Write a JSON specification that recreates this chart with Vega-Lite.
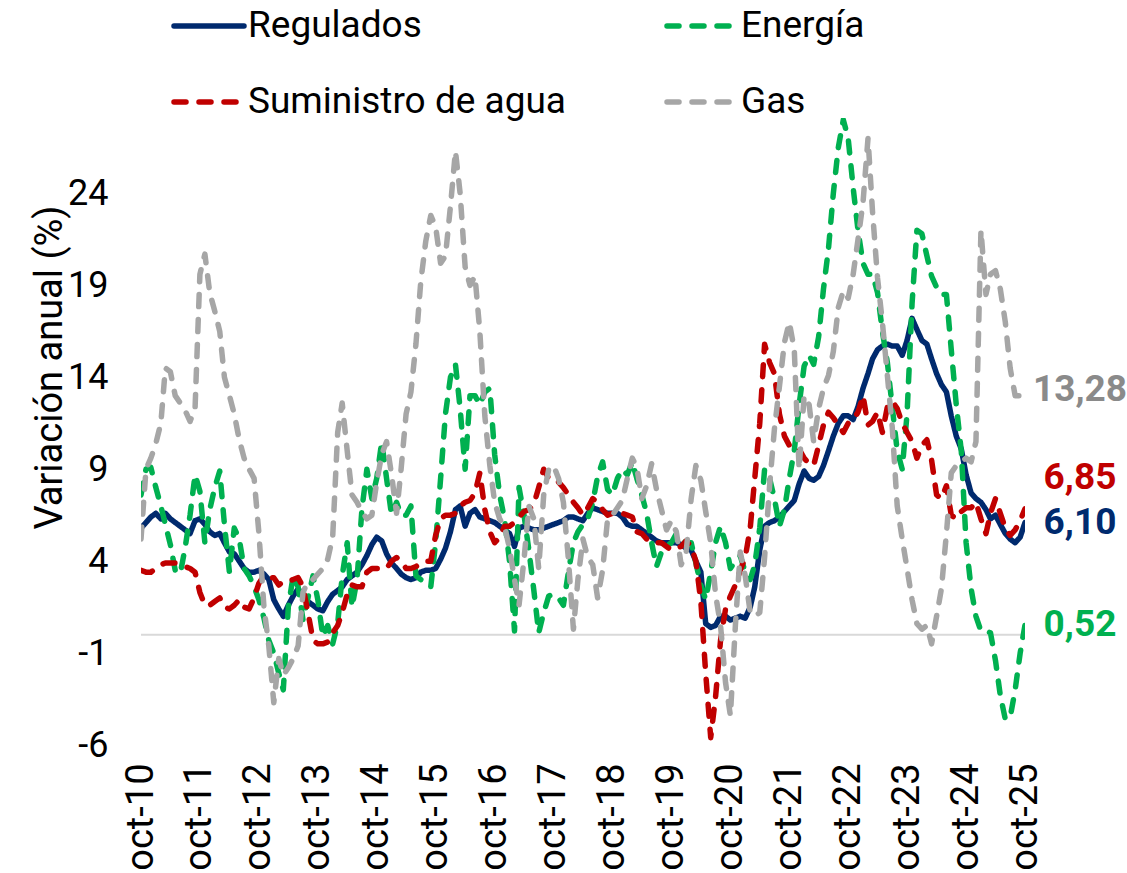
{
  "$schema": "https://vega.github.io/schema/vega-lite/v6.json",
  "width": 884,
  "height": 627,
  "autosize": {"type": "none"},
  "padding": {"left": 141, "top": 118, "right": 102, "bottom": 128},
  "background": "white",
  "config": {"font": "Roboto", "view": {"stroke": null}},
  "resolve": {"scale": {"color": "independent"}},
  "layer": [
    {
      "data": {"values": [{"valor": 0}]},
      "mark": {"type": "rule", "color": "#D9D9D9", "strokeWidth": 2},
      "encoding": {"y": {"field": "valor", "type": "quantitative"}}
    },
    {
      "data": {
        "format": {"parse": {"d": "date:'%Y-%m'"}},
        "values": [
{"d":"2010-10","Regulados":5.8,"Energía":7.6,"Suministro de agua":3.5,"Gas":5.2},
{"d":"2010-11","Regulados":6.1,"Energía":9.0,"Suministro de agua":3.4,"Gas":9.0},
{"d":"2010-12","Regulados":6.4,"Energía":9.1,"Suministro de agua":3.4,"Gas":9.6},
{"d":"2011-01","Regulados":6.6,"Energía":8.0,"Suministro de agua":3.6,"Gas":10.4},
{"d":"2011-02","Regulados":6.3,"Energía":7.0,"Suministro de agua":3.8,"Gas":11.5},
{"d":"2011-03","Regulados":6.6,"Energía":6.0,"Suministro de agua":3.9,"Gas":14.5},
{"d":"2011-04","Regulados":6.3,"Energía":4.9,"Suministro de agua":3.9,"Gas":14.3},
{"d":"2011-05","Regulados":6.1,"Energía":3.5,"Suministro de agua":3.9,"Gas":13.0},
{"d":"2011-06","Regulados":5.9,"Energía":3.3,"Suministro de agua":3.8,"Gas":12.6},
{"d":"2011-07","Regulados":5.7,"Energía":4.7,"Suministro de agua":3.7,"Gas":12.2},
{"d":"2011-08","Regulados":5.5,"Energía":6.5,"Suministro de agua":3.6,"Gas":11.6},
{"d":"2011-09","Regulados":6.2,"Energía":8.7,"Suministro de agua":3.4,"Gas":12.3},
{"d":"2011-10","Regulados":6.3,"Energía":7.8,"Suministro de agua":2.3,"Gas":19.6},
{"d":"2011-11","Regulados":6.0,"Energía":5.0,"Suministro de agua":1.6,"Gas":20.7},
{"d":"2011-12","Regulados":5.6,"Energía":6.8,"Suministro de agua":1.6,"Gas":18.6},
{"d":"2012-01","Regulados":5.4,"Energía":8.0,"Suministro de agua":1.8,"Gas":17.6},
{"d":"2012-02","Regulados":5.5,"Energía":8.9,"Suministro de agua":2.0,"Gas":16.5},
{"d":"2012-03","Regulados":5.0,"Energía":6.0,"Suministro de agua":1.5,"Gas":14.0},
{"d":"2012-04","Regulados":4.5,"Energía":3.4,"Suministro de agua":1.4,"Gas":13.0},
{"d":"2012-05","Regulados":4.4,"Energía":5.8,"Suministro de agua":1.6,"Gas":12.0},
{"d":"2012-06","Regulados":4.0,"Energía":5.2,"Suministro de agua":1.9,"Gas":10.6},
{"d":"2012-07","Regulados":3.6,"Energía":3.6,"Suministro de agua":1.5,"Gas":9.6},
{"d":"2012-08","Regulados":3.4,"Energía":3.2,"Suministro de agua":1.4,"Gas":9.0},
{"d":"2012-09","Regulados":3.4,"Energía":2.6,"Suministro de agua":2.0,"Gas":8.5},
{"d":"2012-10","Regulados":3.5,"Energía":1.9,"Suministro de agua":2.8,"Gas":5.5},
{"d":"2012-11","Regulados":3.3,"Energía":0.9,"Suministro de agua":3.2,"Gas":1.5},
{"d":"2012-12","Regulados":3.0,"Energía":-0.3,"Suministro de agua":3.1,"Gas":-0.6},
{"d":"2013-01","Regulados":1.9,"Energía":-1.0,"Suministro de agua":3.1,"Gas":-3.7},
{"d":"2013-02","Regulados":1.4,"Energía":-2.1,"Suministro de agua":2.7,"Gas":-1.3},
{"d":"2013-03","Regulados":1.0,"Energía":-3.0,"Suministro de agua":2.9,"Gas":-2.2},
{"d":"2013-04","Regulados":1.6,"Energía":1.5,"Suministro de agua":2.9,"Gas":-1.8},
{"d":"2013-05","Regulados":2.1,"Energía":3.2,"Suministro de agua":3.0,"Gas":-1.3},
{"d":"2013-06","Regulados":2.5,"Energía":2.6,"Suministro de agua":3.1,"Gas":-0.6},
{"d":"2013-07","Regulados":2.1,"Energía":0.8,"Suministro de agua":2.6,"Gas":2.3},
{"d":"2013-08","Regulados":1.8,"Energía":2.0,"Suministro de agua":1.2,"Gas":2.9},
{"d":"2013-09","Regulados":1.6,"Energía":3.2,"Suministro de agua":-0.3,"Gas":3.0},
{"d":"2013-10","Regulados":1.4,"Energía":1.9,"Suministro de agua":-0.5,"Gas":3.3},
{"d":"2013-11","Regulados":1.3,"Energía":-0.1,"Suministro de agua":-0.5,"Gas":3.6},
{"d":"2013-12","Regulados":1.8,"Energía":0.5,"Suministro de agua":-0.4,"Gas":4.1},
{"d":"2014-01","Regulados":2.2,"Energía":-0.5,"Suministro de agua":0.1,"Gas":5.3},
{"d":"2014-02","Regulados":2.4,"Energía":0.6,"Suministro de agua":0.5,"Gas":11.0},
{"d":"2014-03","Regulados":2.6,"Energía":3.2,"Suministro de agua":1.2,"Gas":12.6},
{"d":"2014-04","Regulados":3.0,"Energía":5.0,"Suministro de agua":2.2,"Gas":10.0},
{"d":"2014-05","Regulados":3.2,"Energía":1.5,"Suministro de agua":2.7,"Gas":7.6},
{"d":"2014-06","Regulados":3.4,"Energía":3.0,"Suministro de agua":2.6,"Gas":7.2},
{"d":"2014-07","Regulados":3.8,"Energía":6.8,"Suministro de agua":2.6,"Gas":6.7},
{"d":"2014-08","Regulados":4.3,"Energía":9.0,"Suministro de agua":3.4,"Gas":6.3},
{"d":"2014-09","Regulados":4.9,"Energía":7.4,"Suministro de agua":3.6,"Gas":6.5},
{"d":"2014-10","Regulados":5.3,"Energía":8.5,"Suministro de agua":3.6,"Gas":8.3},
{"d":"2014-11","Regulados":5.1,"Energía":10.5,"Suministro de agua":3.6,"Gas":9.8},
{"d":"2014-12","Regulados":4.4,"Energía":8.5,"Suministro de agua":3.6,"Gas":10.5},
{"d":"2015-01","Regulados":3.9,"Energía":6.5,"Suministro de agua":4.0,"Gas":8.7},
{"d":"2015-02","Regulados":3.6,"Energía":7.2,"Suministro de agua":4.2,"Gas":6.6},
{"d":"2015-03","Regulados":3.3,"Energía":6.5,"Suministro de agua":4.0,"Gas":9.0},
{"d":"2015-04","Regulados":3.1,"Energía":6.5,"Suministro de agua":3.6,"Gas":12.0},
{"d":"2015-05","Regulados":3.0,"Energía":7.0,"Suministro de agua":3.6,"Gas":13.2},
{"d":"2015-06","Regulados":3.1,"Energía":3.2,"Suministro de agua":3.7,"Gas":15.8},
{"d":"2015-07","Regulados":3.4,"Energía":3.0,"Suministro de agua":3.9,"Gas":19.2},
{"d":"2015-08","Regulados":3.5,"Energía":2.9,"Suministro de agua":4.0,"Gas":21.4},
{"d":"2015-09","Regulados":3.5,"Energía":2.6,"Suministro de agua":4.0,"Gas":22.8},
{"d":"2015-10","Regulados":3.6,"Energía":5.0,"Suministro de agua":5.4,"Gas":22.2},
{"d":"2015-11","Regulados":4.1,"Energía":8.5,"Suministro de agua":6.3,"Gas":20.2},
{"d":"2015-12","Regulados":4.7,"Energía":12.0,"Suministro de agua":6.5,"Gas":20.6},
{"d":"2016-01","Regulados":5.6,"Energía":14.0,"Suministro de agua":6.5,"Gas":23.3},
{"d":"2016-02","Regulados":6.8,"Energía":14.7,"Suministro de agua":6.6,"Gas":26.3},
{"d":"2016-03","Regulados":7.0,"Energía":12.3,"Suministro de agua":7.0,"Gas":24.0},
{"d":"2016-04","Regulados":5.9,"Energía":9.0,"Suministro de agua":7.2,"Gas":20.0},
{"d":"2016-05","Regulados":6.6,"Energía":13.0,"Suministro de agua":7.3,"Gas":19.0},
{"d":"2016-06","Regulados":6.8,"Energía":13.0,"Suministro de agua":7.7,"Gas":19.5},
{"d":"2016-07","Regulados":6.4,"Energía":12.5,"Suministro de agua":8.8,"Gas":16.5},
{"d":"2016-08","Regulados":6.3,"Energía":13.2,"Suministro de agua":6.8,"Gas":11.9},
{"d":"2016-09","Regulados":6.2,"Energía":13.4,"Suministro de agua":5.6,"Gas":9.2},
{"d":"2016-10","Regulados":6.1,"Energía":9.8,"Suministro de agua":5.0,"Gas":7.2},
{"d":"2016-11","Regulados":5.9,"Energía":7.6,"Suministro de agua":5.3,"Gas":6.3},
{"d":"2016-12","Regulados":5.7,"Energía":6.3,"Suministro de agua":5.9,"Gas":5.9},
{"d":"2017-01","Regulados":5.5,"Energía":4.0,"Suministro de agua":5.9,"Gas":4.7},
{"d":"2017-02","Regulados":4.8,"Energía":0.2,"Suministro de agua":6.1,"Gas":3.0},
{"d":"2017-03","Regulados":5.8,"Energía":8.0,"Suministro de agua":6.4,"Gas":1.6},
{"d":"2017-04","Regulados":5.9,"Energía":6.5,"Suministro de agua":6.7,"Gas":4.1},
{"d":"2017-05","Regulados":5.8,"Energía":4.6,"Suministro de agua":6.8,"Gas":7.0},
{"d":"2017-06","Regulados":5.7,"Energía":2.4,"Suministro de agua":7.1,"Gas":6.3},
{"d":"2017-07","Regulados":5.7,"Energía":0.1,"Suministro de agua":8.0,"Gas":3.6},
{"d":"2017-08","Regulados":5.8,"Energía":1.2,"Suministro de agua":9.0,"Gas":7.6},
{"d":"2017-09","Regulados":5.9,"Energía":2.1,"Suministro de agua":8.5,"Gas":9.0},
{"d":"2017-10","Regulados":6.0,"Energía":2.2,"Suministro de agua":8.5,"Gas":9.2},
{"d":"2017-11","Regulados":6.1,"Energía":2.0,"Suministro de agua":8.3,"Gas":8.5},
{"d":"2017-12","Regulados":6.2,"Energía":1.6,"Suministro de agua":8.0,"Gas":7.2},
{"d":"2018-01","Regulados":6.4,"Energía":3.4,"Suministro de agua":7.6,"Gas":4.1},
{"d":"2018-02","Regulados":6.4,"Energía":5.0,"Suministro de agua":7.2,"Gas":0.3},
{"d":"2018-03","Regulados":6.3,"Energía":5.6,"Suministro de agua":6.9,"Gas":3.0},
{"d":"2018-04","Regulados":6.2,"Energía":6.0,"Suministro de agua":6.5,"Gas":5.2},
{"d":"2018-05","Regulados":6.6,"Energía":6.3,"Suministro de agua":6.9,"Gas":4.2},
{"d":"2018-06","Regulados":6.9,"Energía":7.2,"Suministro de agua":7.4,"Gas":3.8},
{"d":"2018-07","Regulados":6.8,"Energía":8.6,"Suministro de agua":7.2,"Gas":2.0},
{"d":"2018-08","Regulados":6.7,"Energía":9.4,"Suministro de agua":6.8,"Gas":3.5},
{"d":"2018-09","Regulados":6.6,"Energía":7.9,"Suministro de agua":6.5,"Gas":6.3},
{"d":"2018-10","Regulados":6.6,"Energía":7.6,"Suministro de agua":6.6,"Gas":6.5},
{"d":"2018-11","Regulados":6.6,"Energía":8.5,"Suministro de agua":6.7,"Gas":6.9},
{"d":"2018-12","Regulados":6.4,"Energía":9.0,"Suministro de agua":6.6,"Gas":7.3},
{"d":"2019-01","Regulados":6.0,"Energía":8.7,"Suministro de agua":6.5,"Gas":8.5},
{"d":"2019-02","Regulados":5.9,"Energía":9.4,"Suministro de agua":6.4,"Gas":9.6},
{"d":"2019-03","Regulados":5.9,"Energía":8.5,"Suministro de agua":5.6,"Gas":9.1},
{"d":"2019-04","Regulados":5.7,"Energía":7.6,"Suministro de agua":5.5,"Gas":7.4},
{"d":"2019-05","Regulados":5.5,"Energía":6.6,"Suministro de agua":5.2,"Gas":8.1},
{"d":"2019-06","Regulados":5.3,"Energía":5.0,"Suministro de agua":5.0,"Gas":9.3},
{"d":"2019-07","Regulados":5.1,"Energía":3.7,"Suministro de agua":5.0,"Gas":7.9},
{"d":"2019-08","Regulados":5.0,"Energía":4.5,"Suministro de agua":5.0,"Gas":6.8},
{"d":"2019-09","Regulados":5.0,"Energía":4.8,"Suministro de agua":4.8,"Gas":5.7},
{"d":"2019-10","Regulados":5.0,"Energía":5.0,"Suministro de agua":4.6,"Gas":6.2},
{"d":"2019-11","Regulados":5.0,"Energía":5.5,"Suministro de agua":4.7,"Gas":5.6},
{"d":"2019-12","Regulados":4.9,"Energía":5.2,"Suministro de agua":4.8,"Gas":3.8},
{"d":"2020-01","Regulados":4.7,"Energía":5.0,"Suministro de agua":5.1,"Gas":4.5},
{"d":"2020-02","Regulados":4.6,"Energía":5.0,"Suministro de agua":4.8,"Gas":7.4},
{"d":"2020-03","Regulados":4.0,"Energía":3.9,"Suministro de agua":4.0,"Gas":9.2},
{"d":"2020-04","Regulados":3.4,"Energía":2.7,"Suministro de agua":1.8,"Gas":8.4},
{"d":"2020-05","Regulados":0.6,"Energía":1.9,"Suministro de agua":-2.1,"Gas":6.7},
{"d":"2020-06","Regulados":0.4,"Energía":3.4,"Suministro de agua":-5.6,"Gas":5.0},
{"d":"2020-07","Regulados":0.5,"Energía":5.0,"Suministro de agua":-3.4,"Gas":2.2},
{"d":"2020-08","Regulados":1.0,"Energía":5.9,"Suministro de agua":-0.3,"Gas":0.5},
{"d":"2020-09","Regulados":1.0,"Energía":5.0,"Suministro de agua":1.4,"Gas":-2.6},
{"d":"2020-10","Regulados":0.8,"Energía":3.6,"Suministro de agua":2.1,"Gas":-4.4},
{"d":"2020-11","Regulados":0.9,"Energía":4.0,"Suministro de agua":2.7,"Gas":0.5},
{"d":"2020-12","Regulados":1.0,"Energía":4.3,"Suministro de agua":3.5,"Gas":4.5},
{"d":"2021-01","Regulados":0.9,"Energía":3.4,"Suministro de agua":4.2,"Gas":3.2},
{"d":"2021-02","Regulados":1.5,"Energía":3.0,"Suministro de agua":5.8,"Gas":1.2},
{"d":"2021-03","Regulados":2.6,"Energía":3.8,"Suministro de agua":8.5,"Gas":1.0},
{"d":"2021-04","Regulados":4.6,"Energía":5.8,"Suministro de agua":11.5,"Gas":1.2},
{"d":"2021-05","Regulados":5.9,"Energía":9.0,"Suministro de agua":15.8,"Gas":4.2},
{"d":"2021-06","Regulados":6.1,"Energía":8.5,"Suministro de agua":14.8,"Gas":8.1},
{"d":"2021-07","Regulados":6.2,"Energía":7.4,"Suministro de agua":14.2,"Gas":11.2},
{"d":"2021-08","Regulados":6.4,"Energía":5.9,"Suministro de agua":12.0,"Gas":13.5},
{"d":"2021-09","Regulados":6.7,"Energía":6.8,"Suministro de agua":10.8,"Gas":15.9},
{"d":"2021-10","Regulados":7.0,"Energía":8.5,"Suministro de agua":10.3,"Gas":17.0},
{"d":"2021-11","Regulados":7.3,"Energía":10.0,"Suministro de agua":10.3,"Gas":15.5},
{"d":"2021-12","Regulados":8.2,"Energía":12.5,"Suministro de agua":10.1,"Gas":9.0},
{"d":"2022-01","Regulados":8.9,"Energía":14.6,"Suministro de agua":9.6,"Gas":13.0},
{"d":"2022-02","Regulados":8.5,"Energía":15.2,"Suministro de agua":9.3,"Gas":12.5},
{"d":"2022-03","Regulados":8.4,"Energía":14.7,"Suministro de agua":9.2,"Gas":10.5},
{"d":"2022-04","Regulados":8.6,"Energía":16.2,"Suministro de agua":10.3,"Gas":12.3},
{"d":"2022-05","Regulados":9.2,"Energía":18.8,"Suministro de agua":11.4,"Gas":13.4},
{"d":"2022-06","Regulados":10.0,"Energía":21.0,"Suministro de agua":12.1,"Gas":14.1},
{"d":"2022-07","Regulados":10.8,"Energía":24.0,"Suministro de agua":11.8,"Gas":15.4},
{"d":"2022-08","Regulados":11.5,"Energía":26.5,"Suministro de agua":11.4,"Gas":17.8},
{"d":"2022-09","Regulados":11.9,"Energía":28.0,"Suministro de agua":11.0,"Gas":18.7},
{"d":"2022-10","Regulados":11.9,"Energía":27.0,"Suministro de agua":11.5,"Gas":18.3},
{"d":"2022-11","Regulados":11.7,"Energía":24.3,"Suministro de agua":11.7,"Gas":19.6},
{"d":"2022-12","Regulados":12.4,"Energía":22.0,"Suministro de agua":12.1,"Gas":21.5},
{"d":"2023-01","Regulados":13.4,"Energía":20.2,"Suministro de agua":13.0,"Gas":23.5},
{"d":"2023-02","Regulados":14.2,"Energía":19.6,"Suministro de agua":11.4,"Gas":27.0},
{"d":"2023-03","Regulados":15.0,"Energía":19.6,"Suministro de agua":11.6,"Gas":23.0},
{"d":"2023-04","Regulados":15.5,"Energía":18.6,"Suministro de agua":12.1,"Gas":19.4},
{"d":"2023-05","Regulados":15.7,"Energía":16.5,"Suministro de agua":11.0,"Gas":17.0},
{"d":"2023-06","Regulados":15.8,"Energía":14.8,"Suministro de agua":12.4,"Gas":14.1},
{"d":"2023-07","Regulados":15.7,"Energía":12.4,"Suministro de agua":12.7,"Gas":11.3},
{"d":"2023-08","Regulados":15.7,"Energía":10.0,"Suministro de agua":12.3,"Gas":7.0},
{"d":"2023-09","Regulados":15.2,"Energía":9.0,"Suministro de agua":11.5,"Gas":5.2},
{"d":"2023-10","Regulados":16.0,"Energía":12.0,"Suministro de agua":11.0,"Gas":3.6},
{"d":"2023-11","Regulados":17.2,"Energía":18.0,"Suministro de agua":10.5,"Gas":1.9},
{"d":"2023-12","Regulados":16.6,"Energía":22.0,"Suministro de agua":9.6,"Gas":0.6},
{"d":"2024-01","Regulados":16.0,"Energía":21.8,"Suministro de agua":10.3,"Gas":0.3},
{"d":"2024-02","Regulados":15.8,"Energía":20.6,"Suministro de agua":10.6,"Gas":0.5},
{"d":"2024-03","Regulados":15.0,"Energía":19.5,"Suministro de agua":9.5,"Gas":-0.5},
{"d":"2024-04","Regulados":14.2,"Energía":18.9,"Suministro de agua":7.6,"Gas":1.0},
{"d":"2024-05","Regulados":13.6,"Energía":18.5,"Suministro de agua":7.4,"Gas":2.5},
{"d":"2024-06","Regulados":13.2,"Energía":18.5,"Suministro de agua":8.1,"Gas":5.5},
{"d":"2024-07","Regulados":11.9,"Energía":15.5,"Suministro de agua":6.5,"Gas":8.8},
{"d":"2024-08","Regulados":10.8,"Energía":12.5,"Suministro de agua":6.3,"Gas":9.2},
{"d":"2024-09","Regulados":10.1,"Energía":10.0,"Suministro de agua":6.7,"Gas":9.4},
{"d":"2024-10","Regulados":8.7,"Energía":5.0,"Suministro de agua":6.9,"Gas":9.6},
{"d":"2024-11","Regulados":7.7,"Energía":2.5,"Suministro de agua":6.9,"Gas":9.4},
{"d":"2024-12","Regulados":7.4,"Energía":1.0,"Suministro de agua":7.2,"Gas":10.5},
{"d":"2025-01","Regulados":7.2,"Energía":0.2,"Suministro de agua":6.3,"Gas":22.0},
{"d":"2025-02","Regulados":6.8,"Energía":0.2,"Suministro de agua":5.5,"Gas":18.5},
{"d":"2025-03","Regulados":6.3,"Energía":0.1,"Suministro de agua":6.6,"Gas":19.6},
{"d":"2025-04","Regulados":6.5,"Energía":-1.4,"Suministro de agua":7.4,"Gas":19.8},
{"d":"2025-05","Regulados":6.0,"Energía":-3.3,"Suministro de agua":6.6,"Gas":18.8},
{"d":"2025-06","Regulados":5.5,"Energía":-4.6,"Suministro de agua":5.8,"Gas":17.0},
{"d":"2025-07","Regulados":5.2,"Energía":-4.5,"Suministro de agua":5.4,"Gas":14.5},
{"d":"2025-08","Regulados":5.0,"Energía":-3.0,"Suministro de agua":5.7,"Gas":13.0},
{"d":"2025-09","Regulados":5.3,"Energía":-1.0,"Suministro de agua":6.2,"Gas":13.0},
{"d":"2025-10","Regulados":6.1,"Energía":0.52,"Suministro de agua":6.85,"Gas":13.28}
        ]
      },
      "transform": [{"fold": ["Regulados", "Energía", "Suministro de agua", "Gas"], "as": ["serie", "valor"]}],
      "mark": {"type": "line", "strokeWidth": 5.5, "strokeCap": "round", "strokeJoin": "round", "clip": true},
      "encoding": {
        "x": {
          "field": "d", "type": "temporal",
          "scale": {"domain": [{"year": 2010, "month": 10, "date": 1}, {"year": 2025, "month": 10, "date": 1}], "nice": false},
          "axis": {
            "values": [
              {"year": 2010, "month": 10, "date": 1}, {"year": 2011, "month": 10, "date": 1},
              {"year": 2012, "month": 10, "date": 1}, {"year": 2013, "month": 10, "date": 1},
              {"year": 2014, "month": 10, "date": 1}, {"year": 2015, "month": 10, "date": 1},
              {"year": 2016, "month": 10, "date": 1}, {"year": 2017, "month": 10, "date": 1},
              {"year": 2018, "month": 10, "date": 1}, {"year": 2019, "month": 10, "date": 1},
              {"year": 2020, "month": 10, "date": 1}, {"year": 2021, "month": 10, "date": 1},
              {"year": 2022, "month": 10, "date": 1}, {"year": 2023, "month": 10, "date": 1},
              {"year": 2024, "month": 10, "date": 1}, {"year": 2025, "month": 10, "date": 1}
            ],
            "labelExpr": "lower(timeFormat(datum.value, '%b-%y'))",
            "labelAngle": -90,
            "labelFontSize": 38,
            "labelFont": "Roboto",
            "labelColor": "#000000",
            "labelPadding": 18,
            "ticks": false,
            "tickSize": 0,
            "domain": false,
            "grid": false,
            "title": null,
            "labelOverlap": false,
            "labelFlush": false,
            "labelBound": false
          }
        },
        "y": {
          "field": "valor", "type": "quantitative",
          "scale": {"domain": [-6, 28.1], "nice": false, "zero": false},
          "axis": {
            "values": [-6, -1, 4, 9, 14, 19, 24],
            "labelExpr": "datum.value < 0 ? '-' + abs(datum.value) : '' + datum.value",
            "labelFontSize": 36,
            "labelFont": "Roboto",
            "labelColor": "#000000",
            "labelPadding": 33,
            "ticks": false,
            "tickSize": 0,
            "domain": false,
            "grid": false,
            "title": "Variación anual (%)",
            "titleFont": "Roboto",
            "titleFontSize": 38,
            "titleFontWeight": "normal",
            "titleColor": "#000000",
            "titleAngle": 270,
            "titleAlign": "center",
            "titleBaseline": "middle",
            "titleX": -91,
            "titleY": 249
          }
        },
        "color": {
          "field": "serie", "type": "nominal",
          "scale": {"domain": ["Regulados", "Energía", "Suministro de agua", "Gas"], "range": ["#002A6E", "#00B050", "#C00000", "#A6A6A6"]},
          "legend": {
            "orient": "none", "direction": "horizontal", "legendX": 30, "legendY": -130,
            "columns": 2, "columnPadding": 90, "rowPadding": 20,
            "symbolType": "stroke", "symbolSize": 4900, "symbolStrokeWidth": 5.5,
            "labelFontSize": 37, "labelFont": "Roboto", "labelColor": "#000000", "labelOffset": 1,
            "title": null, "labelLimit": 0, "padding": 0,
            "encode": {"symbols": {"update": {"strokeDash": {"scale": "strokeDash", "field": "value"}, "strokeCap": {"value": "round"}}}}
          }
        },
        "strokeDash": {
          "field": "serie", "type": "nominal",
          "scale": {"domain": ["Regulados", "Energía", "Suministro de agua", "Gas"], "range": [[1, 0], [12, 13], [12, 13], [12, 13]]},
          "legend": null
        }
      }
    },
    {
      "data": {
        "format": {"parse": {"d": "date:'%Y-%m'"}},
        "values": [
          {"d": "2025-10", "serie": "Gas", "valor": 13.28, "texto": "13,28"},
          {"d": "2025-10", "serie": "Regulados", "valor": 6.1, "texto": "6,10"},
          {"d": "2025-10", "serie": "Energía", "valor": 0.52, "texto": "0,52"}
        ]
      },
      "mark": {"type": "text", "font": "Roboto", "fontSize": 37, "fontWeight": "bold", "align": "center", "baseline": "middle", "dx": 55},
      "encoding": {
        "x": {"field": "d", "type": "temporal"},
        "y": {"field": "valor", "type": "quantitative"},
        "text": {"field": "texto"},
        "color": {"field": "serie", "type": "nominal", "scale": {"domain": ["Regulados", "Energía", "Gas"], "range": ["#002A6E", "#00B050", "#8A8A8A"]}, "legend": null}
      }
    },
    {
      "data": {
        "format": {"parse": {"d": "date:'%Y-%m'"}},
        "values": [
          {"d": "2025-10", "serie": "Suministro de agua", "valor": 6.85, "texto": "6,85"}
        ]
      },
      "mark": {"type": "text", "font": "Roboto", "fontSize": 37, "fontWeight": "bold", "align": "center", "baseline": "middle", "dx": 55, "dy": -31, "color": "#C00000"},
      "encoding": {
        "x": {"field": "d", "type": "temporal"},
        "y": {"field": "valor", "type": "quantitative"},
        "text": {"field": "texto"}
      }
    }
  ]
}
